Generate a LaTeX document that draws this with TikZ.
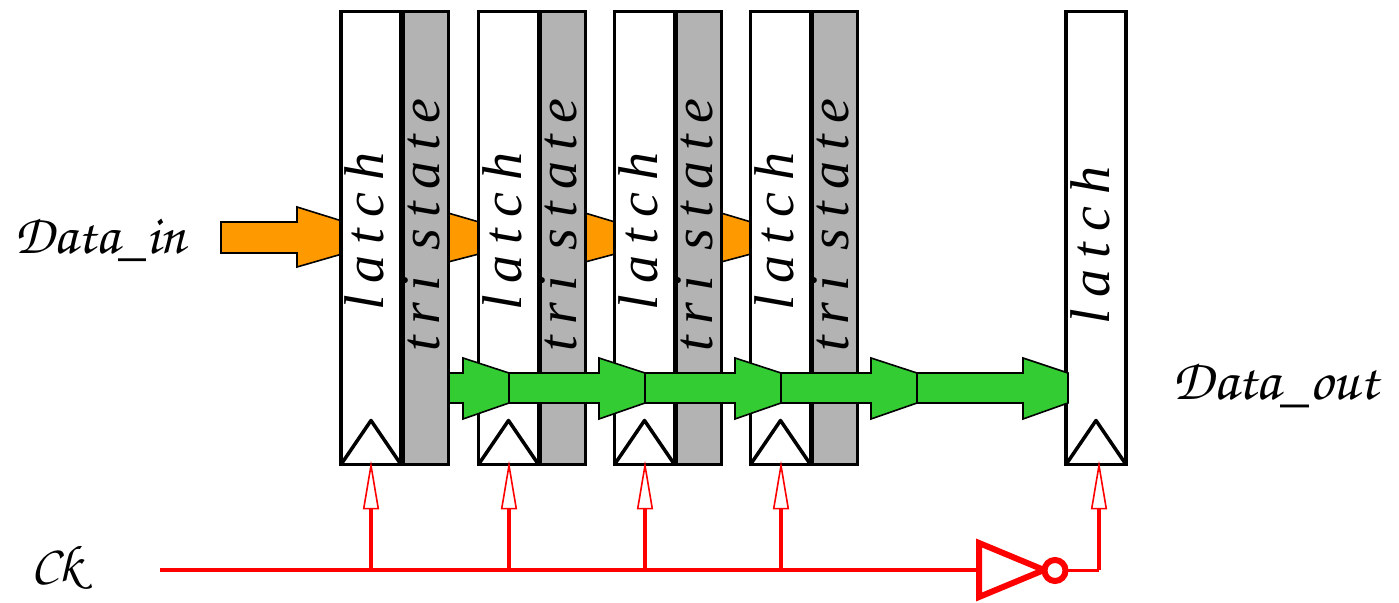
\documentclass[tikz,border=0pt]{standalone}
\usepackage{fontspec}
\usetikzlibrary{arrows.meta}
\setmainfont{Liberation Serif}
\newfontfamily\spaced[LetterSpace=20.5,Ligatures=NoCommon]{Liberation Serif Italic}
\definecolor{trigray}{RGB}{179,179,179}
\definecolor{datagreen}{RGB}{51,204,51}
\definecolor{dataorange}{RGB}{255,153,0}
\definecolor{clkred}{RGB}{255,0,0}
\tikzset{
  latchbox/.style={draw=black,fill=white,line width=1.75pt,minimum width=30pt,minimum height=226.5pt,inner sep=0,outer sep=0,anchor=north west},
  tribox/.style={draw=black,fill=trigray,line width=1.75pt,minimum width=22.75pt,minimum height=226.5pt,inner sep=0,outer sep=0,anchor=north west},
  vtext/.style={rotate=90,anchor=base west,inner sep=0,font=\spaced\fontsize{28}{28}\selectfont},
  hand/.style={inner sep=0,font=\fontsize{#1}{#1}\usefont{T1}{pzc}{m}{it}},
  garrow/.style={draw=black,fill=datagreen,line width=0.8pt,line join=miter},
  oarrow/.style={draw=black,fill=dataorange,line width=0.8pt,line join=miter},
  ckwedge/.style={draw=black,line width=1.75pt,line join=round},
  clk/.style={draw=clkred,line width=1.75pt},
  clkin/.style={draw=clkred,line width=2.25pt,-{Triangle[open,fill=white,length=24.5pt,width=8pt,line width=0.8pt]}},
}
\begin{document}
\begin{tikzpicture}[x=0.5pt,y=-0.5pt]
\useasboundingbox (0,0) rectangle (1399,603);
% orange arrows under boxes
\draw[oarrow] (221,222) -- (297,222) -- (297,207) -- (342,221) -- (342,254) -- (297,267) -- (297,253) -- (221,253) -- cycle;
\draw[oarrow] (448,213) -- (479,222) -- (479,254) -- (448,262) -- cycle;
\draw[oarrow] (585,213) -- (615,222) -- (615,254) -- (585,262) -- cycle;
\draw[oarrow] (721,213) -- (751,222) -- (751,254) -- (721,262) -- cycle;
% boxes
\node[latchbox] (l1) at (341,11.5) {};
\node[tribox]   (t1) at (403,11.5) {};
\node[latchbox] (l2) at (478.5,11.5) {};
\node[tribox]   (t2) at (540,11.5) {};
\node[latchbox] (l3) at (614.5,11.5) {};
\node[tribox]   (t3) at (676,11.5) {};
\node[latchbox] (l4) at (750.5,11.5) {};
\node[tribox]   (t4) at (812,11.5) {};
\node[latchbox] (l5) at (1066,11.5) {};
% labels
\node[vtext] (tl1) at (383,311) {latch};
\node[vtext] (tl2) at (521,311) {latch};
\node[vtext] (tl3) at (657,311) {latch};
\node[vtext] (tl4) at (793,311) {latch};
\node[vtext] (tl5) at (1109,325) {latch};
\node[vtext] (ts1) at (439,352) {tri state};
\node[vtext] (ts2) at (576,352) {tri state};
\node[vtext] (ts3) at (712,352) {tri state};
\node[vtext] (ts4) at (848,352) {tri state};
% clock wedges
\draw[ckwedge] (l1.south west) -- ++(30,-44) -- (l1.south east);
\draw[ckwedge] (l2.south west) -- ++(30,-44) -- (l2.south east);
\draw[ckwedge] (l3.south west) -- ++(30,-44) -- (l3.south east);
\draw[ckwedge] (l4.south west) -- ++(30,-44) -- (l4.south east);
\draw[ckwedge] (l5.south west) -- ++(30,-44) -- (l5.south east);
% green arrows
\draw[garrow] (449,373) -- (463,373) -- (463,358) -- (509,373) -- (509,403) -- (463,419) -- (463,403) -- (449,403) -- cycle;
\draw[garrow] (509,373) -- (599,373) -- (599,358) -- (645,373) -- (645,403) -- (599,419) -- (599,403) -- (509,403) -- cycle;
\draw[garrow] (645,373) -- (735,373) -- (735,358) -- (781,373) -- (781,403) -- (735,419) -- (735,403) -- (645,403) -- cycle;
\draw[garrow] (781,373) -- (871,373) -- (871,358) -- (917,373) -- (917,403) -- (871,419) -- (871,403) -- (781,403) -- cycle;
\draw[garrow] (917,373) -- (1023,373) -- (1023,358) -- (1068,373) -- (1068,403) -- (1023,419) -- (1023,403) -- (917,403) -- cycle;
% clock
\coordinate (ckstart) at (160,570);
\coordinate (b1) at (371,570);
\coordinate (b2) at (509,570);
\coordinate (b3) at (645,570);
\coordinate (b4) at (781,570);
\coordinate (invin) at (978,570);
\coordinate (corner) at (1099,570);
\draw[clkred,line width=3pt,line join=miter] (979,543) -- (1044,570) -- (979,597) -- cycle;
\node[draw=clkred,line width=3pt,fill=white,circle,minimum size=10.5pt,inner sep=0,outer sep=0] (bub) at (1055,570.5) {};
\draw[clk] (ckstart) -- (invin);
\draw[clkin] (b1) -- ([yshift=2pt]l1.south -| b1);
\draw[clkin] (b2) -- ([yshift=2pt]l2.south -| b2);
\draw[clkin] (b3) -- ([yshift=2pt]l3.south -| b3);
\draw[clkin] (b4) -- ([yshift=2pt]l4.south -| b4);
\draw[clk] (bub.east) -- (bub.east -| corner);
\draw[clkin] (corner) -- ([yshift=2pt]l5.south -| corner);
% side labels
\node[hand=28,anchor=base west] (din) at (14,254) {Data\_in};
\node[hand=29,anchor=base west] (dout) at (1172,400) {Data\_out};
\node[hand=26,anchor=base west] (ck) at (31,582) {Ck};
\end{tikzpicture}
\end{document}
